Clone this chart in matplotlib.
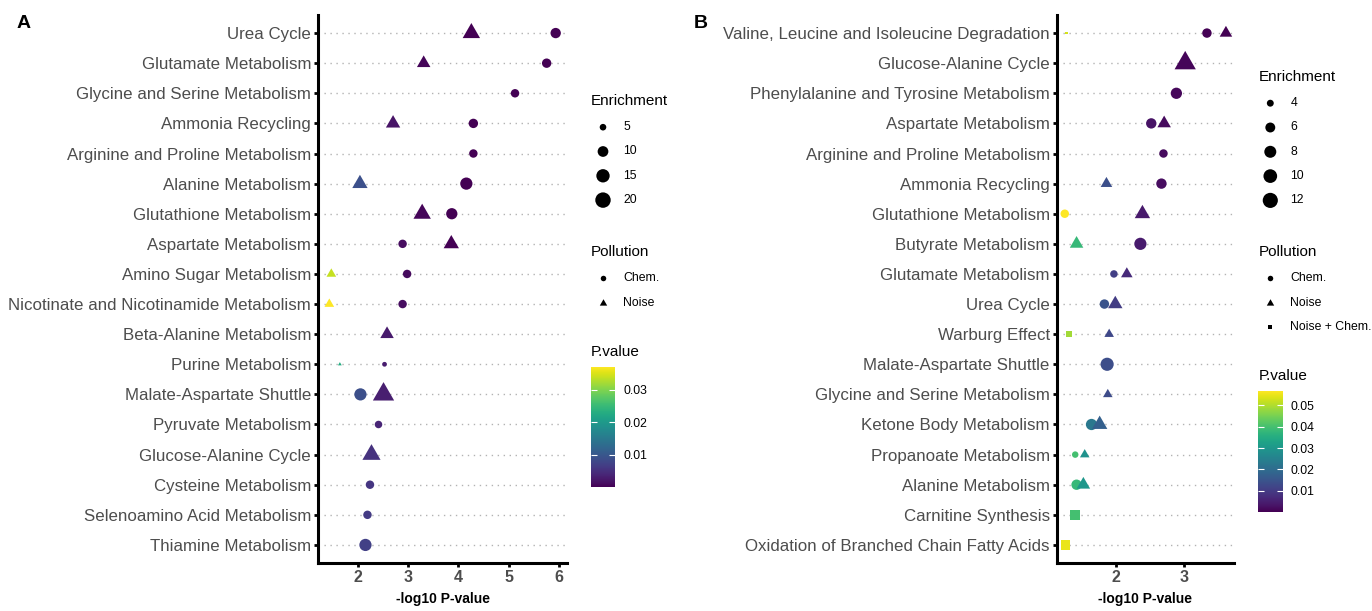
import numpy as np
import matplotlib.pyplot as plt
from matplotlib.path import Path
from matplotlib.colors import Normalize
from matplotlib.cm import ScalarMappable

plt.rcParams['font.family'] = ['Liberation Sans', 'DejaVu Sans']

W, H = 1372, 611

# ---- panel A data ----
a_paths = ["Urea Cycle", "Glutamate Metabolism", "Glycine and Serine Metabolism",
           "Ammonia Recycling", "Arginine and Proline Metabolism", "Alanine Metabolism",
           "Glutathione Metabolism", "Aspartate Metabolism", "Amino Sugar Metabolism",
           "Nicotinate and Nicotinamide Metabolism", "Beta-Alanine Metabolism",
           "Purine Metabolism", "Malate-Aspartate Shuttle", "Pyruvate Metabolism",
           "Glucose-Alanine Cycle", "Cysteine Metabolism", "Selenoamino Acid Metabolism",
           "Thiamine Metabolism"]
a_pt_path = ["Urea Cycle", "Urea Cycle", "Glutamate Metabolism", "Glutamate Metabolism",
             "Glycine and Serine Metabolism", "Ammonia Recycling", "Ammonia Recycling",
             "Arginine and Proline Metabolism", "Alanine Metabolism", "Alanine Metabolism",
             "Glutathione Metabolism", "Glutathione Metabolism", "Aspartate Metabolism",
             "Aspartate Metabolism", "Amino Sugar Metabolism", "Amino Sugar Metabolism",
             "Nicotinate and Nicotinamide Metabolism", "Nicotinate and Nicotinamide Metabolism",
             "Beta-Alanine Metabolism", "Purine Metabolism", "Purine Metabolism",
             "Malate-Aspartate Shuttle", "Malate-Aspartate Shuttle", "Pyruvate Metabolism",
             "Glucose-Alanine Cycle", "Cysteine Metabolism", "Selenoamino Acid Metabolism",
             "Thiamine Metabolism"]
a_pt_type = ["Noise", "Chem.", "Noise", "Chem.", "Chem.", "Noise", "Chem.", "Chem.",
             "Noise", "Chem.", "Noise", "Chem.", "Chem.", "Noise", "Noise", "Chem.",
             "Noise", "Chem.", "Noise", "Noise", "Chem.", "Chem.", "Noise", "Chem.",
             "Noise", "Chem.", "Chem.", "Chem."]
a_logp = [4.26, 5.94, 3.31, 5.76, 5.13, 2.70, 4.30, 4.30, 2.04, 4.16, 3.28, 3.87,
          2.89, 3.86, 1.47, 2.98, 1.43, 2.89, 2.58, 1.64, 2.53, 2.05, 2.51, 2.41,
          2.27, 2.24, 2.19, 2.15]
a_enrich = [14.1, 9.4, 8.9, 8.0, 6.8, 9.9, 8.0, 6.8, 11.1, 12.7, 14.1, 10.9,
            6.8, 11.1, 5.5, 6.8, 5.5, 6.8, 8.9, 3.5, 3.9, 12.7, 21.0, 5.8,
            15.3, 6.8, 6.8, 12.7]
a_size_breaks = [5, 10, 15, 20]
a_p_ticks = [0.01, 0.02, 0.03]

# ---- panel B data ----
b_paths = ["Valine, Leucine and Isoleucine Degradation", "Glucose-Alanine Cycle",
           "Phenylalanine and Tyrosine Metabolism", "Aspartate Metabolism",
           "Arginine and Proline Metabolism", "Ammonia Recycling", "Glutathione Metabolism",
           "Butyrate Metabolism", "Glutamate Metabolism", "Urea Cycle", "Warburg Effect",
           "Malate-Aspartate Shuttle", "Glycine and Serine Metabolism",
           "Ketone Body Metabolism", "Propanoate Metabolism", "Alanine Metabolism",
           "Carnitine Synthesis", "Oxidation of Branched Chain Fatty Acids"]
b_pt_path = ["Valine, Leucine and Isoleucine Degradation",
             "Valine, Leucine and Isoleucine Degradation",
             "Valine, Leucine and Isoleucine Degradation", "Glucose-Alanine Cycle",
             "Phenylalanine and Tyrosine Metabolism", "Aspartate Metabolism",
             "Aspartate Metabolism", "Arginine and Proline Metabolism", "Ammonia Recycling",
             "Ammonia Recycling", "Glutathione Metabolism", "Glutathione Metabolism",
             "Butyrate Metabolism", "Butyrate Metabolism", "Glutamate Metabolism",
             "Glutamate Metabolism", "Urea Cycle", "Urea Cycle", "Warburg Effect",
             "Warburg Effect", "Malate-Aspartate Shuttle", "Glycine and Serine Metabolism",
             "Ketone Body Metabolism", "Ketone Body Metabolism", "Propanoate Metabolism",
             "Propanoate Metabolism", "Alanine Metabolism", "Alanine Metabolism",
             "Carnitine Synthesis", "Oxidation of Branched Chain Fatty Acids"]
b_pt_type = ["Noise + Chem.", "Chem.", "Noise", "Noise", "Chem.", "Chem.", "Noise",
             "Chem.", "Noise", "Chem.", "Chem.", "Noise", "Noise", "Chem.", "Chem.",
             "Noise", "Chem.", "Noise", "Noise + Chem.", "Noise", "Chem.", "Noise",
             "Chem.", "Noise", "Chem.", "Noise", "Chem.", "Noise", "Noise + Chem.",
             "Noise + Chem."]
b_logp = [1.275, 3.34, 3.62, 3.02, 2.89, 2.52, 2.71, 2.70, 1.86, 2.67, 1.246, 2.39,
          1.42, 2.36, 1.97, 2.16, 1.83, 1.99, 1.31, 1.90, 1.87, 1.88, 1.64, 1.76,
          1.40, 1.54, 1.42, 1.52, 1.40, 1.26]
b_enrich = [3.0, 5.6, 5.5, 13.0, 7.25, 6.4, 6.1, 4.9, 5.0, 6.4, 4.9, 7.4,
            6.1, 8.25, 4.3, 5.0, 5.6, 6.7, 3.7, 4.1, 9.35, 4.1, 7.25, 7.4,
            3.8, 4.1, 6.4, 6.1, 7.4, 6.4]
b_size_breaks = [4, 6, 8, 10, 12]
b_p_ticks = [0.01, 0.02, 0.03, 0.04, 0.05]

# equilateral triangle, centred on its centroid (like R pch 17)
TRI = Path([(0, 1.1547), (-1, -0.5774), (1, -0.5774), (0, 1.1547)],
           [Path.MOVETO, Path.LINETO, Path.LINETO, Path.CLOSEPOLY])
MARKERS = {"Chem.": ("o", 1.0), "Noise": (TRI, 1.555), "Noise + Chem.": ("s", 0.886)}
GREY = "#4D4D4D"


def diam_px(e, lo, hi):
    return 2.8 + 13.0 * np.sqrt((np.asarray(e, float) - lo) / (hi - lo))


def draw_panel(ax, paths, pt_path, pt_type, logp, enrich):
    logp = np.array(logp)
    enrich = np.array(enrich)
    pt_type = np.array(pt_type)
    n = len(paths)
    ypos = np.array([n - 1 - paths.index(p) for p in pt_path])
    pval = 10 ** -logp
    norm = Normalize(pval.min(), pval.max())
    lo, hi = enrich.min(), enrich.max()
    for kind, (m, f) in MARKERS.items():
        sel = pt_type == kind
        if not sel.any():
            continue
        ax.scatter(logp[sel], ypos[sel], s=(diam_px(enrich[sel], lo, hi) * f * 0.72) ** 2,
                   c=pval[sel], cmap="viridis", norm=norm, marker=m, linewidths=0, zorder=3)
    ax.set_yticks(range(n))
    ax.set_yticklabels(paths[::-1])
    ax.set_ylim(-0.6, n - 0.4)
    span = logp.max() - logp.min()
    ax.set_xlim(logp.min() - 0.05 * span, logp.max() + 0.05 * span)
    ax.grid(axis="y", ls=(0, (1, 3.3)), color="#b3b3b3", lw=1)
    ax.set_axisbelow(True)
    for s in ["top", "right"]:
        ax.spines[s].set_visible(False)
    for s in ["left", "bottom"]:
        ax.spines[s].set_linewidth(2.2)
    ax.tick_params(axis="both", length=3, width=2, color="black")
    ax.tick_params(axis="y", labelsize=12.2, labelcolor=GREY, pad=2)
    ax.tick_params(axis="x", labelsize=11.5, labelcolor=GREY, pad=2)
    for lab in ax.get_xticklabels():
        lab.set_fontweight("bold")
    ax.set_xlabel("-log10 P-value", fontsize=10, fontweight="bold", labelpad=5)
    return norm, lo, hi


def draw_legend(fig, lax, x0, title_y, breaks, lo, hi, poll_y, kinds, cb_top, cb_bot,
                norm, ticks):
    kx, tx = x0 + 12, x0 + 32
    lax.text(x0, title_y, "Enrichment", fontsize=11, va="center", ha="left")
    ys = np.linspace(title_y + 26.5, title_y + 26.5 + 24.3 * (len(breaks) - 1), len(breaks))
    lax.scatter([kx] * len(breaks), ys, s=(diam_px(breaks, lo, hi) * 0.72) ** 2,
                c="black", linewidths=0)
    for y, b in zip(ys, breaks):
        lax.text(tx, y, str(b), fontsize=8.8, va="center", ha="left")
    lax.text(x0, poll_y, "Pollution", fontsize=11, va="center", ha="left")
    for i, k in enumerate(kinds):
        y = poll_y + 26.5 + 24.3 * i
        m, f = MARKERS[k]
        lax.scatter([kx], [y], s=(5.5 * f * 0.72) ** 2, c="black", marker=m, linewidths=0)
        lax.text(tx, y, k, fontsize=8.8, va="center", ha="left")
    lax.text(x0, cb_top - 14.5, "P.value", fontsize=11, va="center", ha="left")
    cax = fig.add_axes([x0 / W, 1 - cb_bot / H, 24.3 / W, (cb_bot - cb_top) / H])
    cb = fig.colorbar(ScalarMappable(norm=norm, cmap="viridis"), cax=cax)
    cb.outline.set_visible(False)
    cb.set_ticks(ticks)
    cb.minorticks_off()
    cax.yaxis.set_ticks_position("both")
    cax.tick_params(direction="in", length=4, width=0.8, color="white", labelsize=8.8,
                    pad=6, labelleft=False, labelright=True)


fig = plt.figure(figsize=(W / 100, H / 100), dpi=100)
ax_a = fig.add_axes([318 / W, 1 - 563 / H, (567 - 318) / W, (563 - 15) / H])
ax_b = fig.add_axes([1056.7 / W, 1 - 563 / H, (1234 - 1056.7) / W, (563 - 15) / H])

norm_a, lo_a, hi_a = draw_panel(ax_a, a_paths, a_pt_path, a_pt_type, a_logp, a_enrich)
norm_b, lo_b, hi_b = draw_panel(ax_b, b_paths, b_pt_path, b_pt_type, b_logp, b_enrich)

lax = fig.add_axes([0, 0, 1, 1])
lax.set_xlim(0, W)
lax.set_ylim(H, 0)
lax.axis("off")

draw_legend(fig, lax, 591, 100.7, a_size_breaks, lo_a, hi_a, 251.7, ["Chem.", "Noise"],
            366.7, 487.3, norm_a, a_p_ticks)
draw_legend(fig, lax, 1258.3, 76.7, b_size_breaks, lo_b, hi_b, 251.7,
            ["Chem.", "Noise", "Noise + Chem."], 391, 511.7, norm_b, b_p_ticks)

fig.text(17 / W, 1 - 23.5 / H, "A", fontsize=14, fontweight="bold", va="center")
fig.text(694 / W, 1 - 23.5 / H, "B", fontsize=14, fontweight="bold", va="center")

fig.savefig("out.png", dpi=100)
